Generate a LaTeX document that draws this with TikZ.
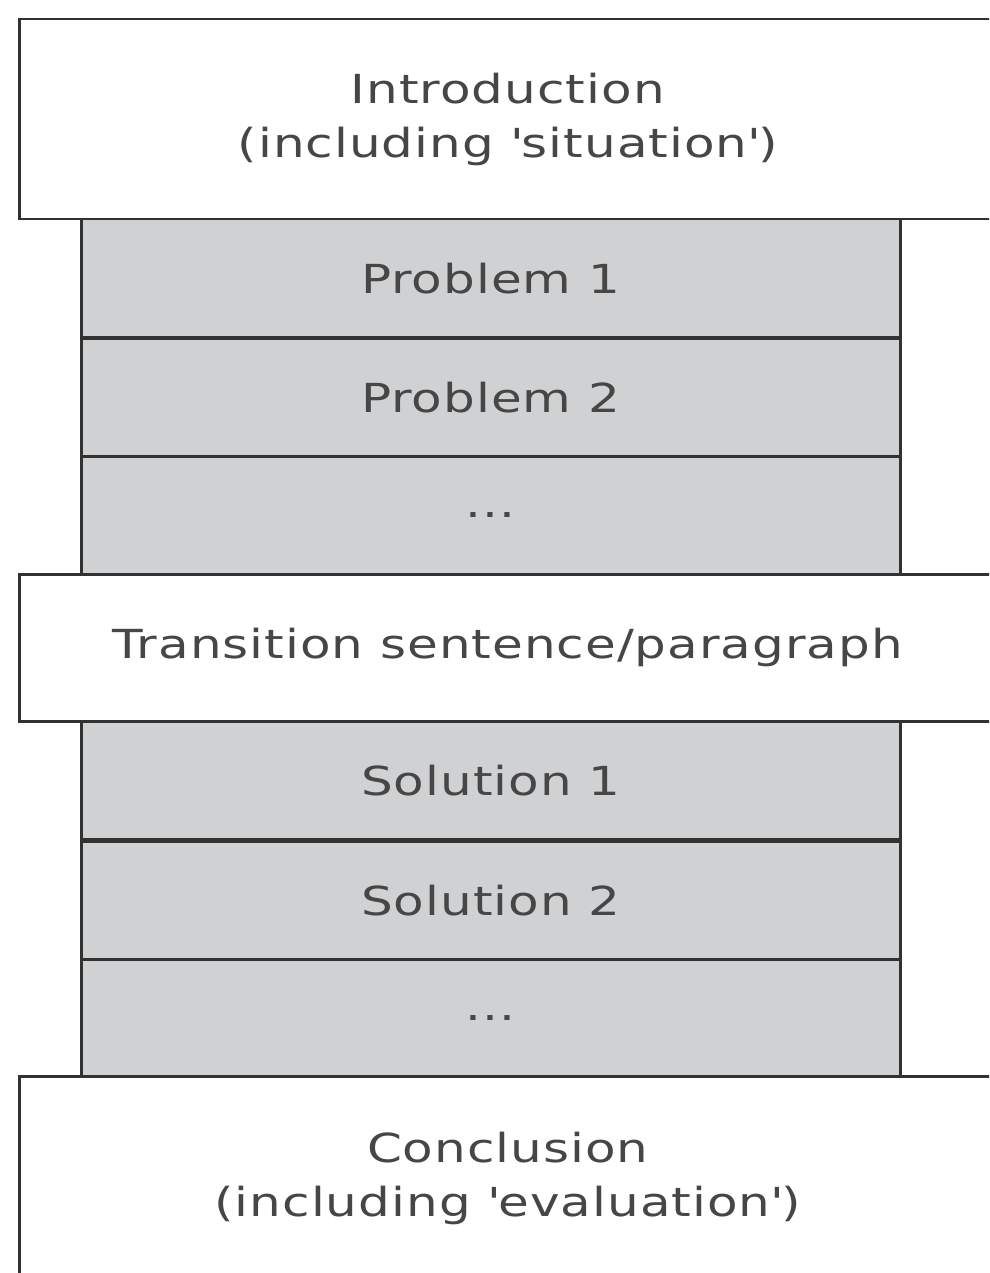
\documentclass[tikz,border=0pt]{standalone}
\usepackage{fontspec}
\setmainfont{DejaVu Sans}[FakeStretch=1.25, LetterSpace=2.5]
\definecolor{boxgray}{RGB}{208,209,211}
\definecolor{textgray}{RGB}{70,70,70}
\definecolor{linegray}{RGB}{50,50,50}

\tikzset{
  part/.style={draw=linegray, line width=2.5pt, fill=white, text=textgray,
    align=center, inner sep=0pt, anchor=north west,
    font=\fontsize{40}{54}\selectfont, minimum width=977pt},
  subpart/.style={part, fill=boxgray, minimum width=819pt, minimum height=118pt}
}

\begin{document}
\begin{tikzpicture}[x=1pt, y=-1pt]
  \def\wx{18}
  \def\gx{80}
  \useasboundingbox (0,0) rectangle (989,1273);
  \clip (0,0) rectangle (989,1273);
  \fill[white] (0,0) rectangle (989,1273);

  % grey blocks first, the white ones go over their ends
  \node[subpart] (prob1) at (\gx,218) {Problem 1};
  \node[subpart] (prob2) at (\gx,337) {Problem 2};
  \node[subpart] (probdots) at (\gx,455) {...};
  \node[subpart] (sol1) at (\gx,720) {Solution 1};
  \node[subpart] (sol2) at (\gx,840) {Solution 2};
  \node[subpart] (soldots) at (\gx,958) {...};

  %white blocks
  \node[part, minimum height=200pt] (intro) at (\wx,18)
    {Introduction\\(including \textquotesingle situation\textquotesingle)};
  \node[part, minimum height=147pt] (trans) at (\wx,573)
    {Transition sentence/paragraph};
  \node[part, minimum height=205pt] (concl) at (\wx,1075)
    {Conclusion\\(including \textquotesingle evaluation\textquotesingle)};
\end{tikzpicture}
\end{document}
